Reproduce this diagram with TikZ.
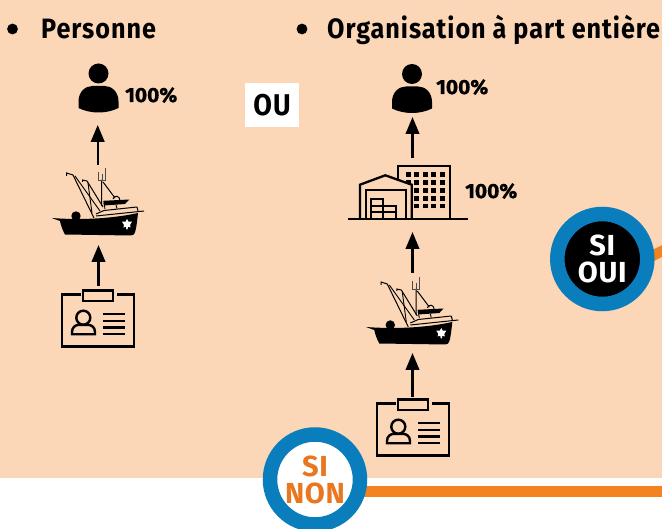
\documentclass[tikz,border=0pt]{standalone}
\usepackage{fontspec}
\usetikzlibrary{arrows.meta}
\newfontfamily\dinfont[FakeStretch=0.9,LetterSpace=3.5]{Fira Sans}
\newfontfamily\ringfont[FakeStretch=1.0,LetterSpace=2.5]{Fira Sans}
\newfontfamily\pctfont[FakeStretch=1.02,FakeBold=0.8]{Fira Sans}
\definecolor{peach}{HTML}{FBD6B7}
\definecolor{ringblue}{HTML}{0A7DBD}
\definecolor{barorange}{HTML}{F58220}
\definecolor{nonorange}{HTML}{E8771F}
\tikzset{
  x=1pt,y=-1pt,
  lbl/.style={inner sep=0,anchor=base west,font=\dinfont\bfseries\fontsize{28}{28}\selectfont},
  pct/.style={inner sep=0,anchor=base west,font=\pctfont\bfseries\fontsize{20.5}{20.5}\selectfont},
  flow/.style={line width=2.4pt,-{Triangle[length=17pt,width=13.5pt]}},
  ring/.style={circle,draw=ringblue,line width=14.5pt,minimum size=90pt,inner sep=0,align=center,
     font=\ringfont\bfseries\fontsize{29}{27}\selectfont},
  pics/personicon/.style={code={
    \fill (0,0) circle (10);
    \fill (-20,34.5) -- (-20,28) .. controls (-20,18) and (-13,12.5) .. (-6,12.5) -- (6,12.5)
       .. controls (13,12.5) and (20,18) .. (20,28) -- (20,34.5) .. controls (8,40.5) and (-8,40.5) .. (-20,34.5) -- cycle;
  }},
  pics/boaticon/.style={code={
    \fill (51.7,218) -- (60,221) .. controls (61,226) and (63,231) .. (65,234.5) -- (131,235.5)
       .. controls (135,235.5) and (136,232) .. (138,213) .. controls (115,218) and (85,220.5) .. (51.7,218) -- cycle;
    \fill (76,216) circle (4.7);
    \draw[line width=1pt] (144,211) -- (96,216);
    \draw[line width=1pt] (137,207) -- (138,211);
    \draw[line width=1pt] (137,207) -- (104,210.5) -- (96,214);
    \draw[line width=.9pt] (105,209) -- (104,203) (116,205) -- (117,208.5);
    \fill (103.3,200.8) -- (129.3,199.5) -- (125,204) -- (104,205.5) -- cycle;
    \draw[line width=1pt] (66.7,176) -- (66.7,173) -- (73,175) -- (94,218);
    \draw[line width=.9pt] (75,176) -- (100,211);
    \draw[line width=.9pt] (88,183) -- (92,213);
    \draw[line width=1pt] (82.5,182) -- (82.5,180) -- (87,181) -- (103,207);
    \draw[line width=1pt] (101.7,180) -- (101.7,206) (103,182) -- (115,198);
    \draw[line width=.8pt,black!70] (98.5,172) -- (98.5,180.5) -- (105.3,180.5) -- (105.3,168) (102,174) -- (102,180);
    \draw[line width=1pt] (113,199) .. controls (114,195) and (120,195) .. (120,201);
    \fill[white] (127,219) -- (128.4,221.6) -- (132,221.6) -- (130,225) -- (130.6,227.4) -- (128,226.8) -- (127.6,229.5)
       -- (126.4,229.5) -- (126,226.8) -- (123.4,227.4) -- (124,225) -- (122,221.6) -- (125.6,221.6) -- cycle;
  }},
  pics/badgeicon/.style={code={
    \draw[line width=2.4pt] (81,294.5) -- (62,294.5) -- (62,346.5) -- (134,346.5) -- (134,294.5) -- (117,294.5);
    \draw[line width=2.4pt] (83,290.5) rectangle (113,301);
    \draw[line width=2.4pt] (83.3,317.7) circle (7);
    \draw[line width=2.4pt] (72,334.3) -- (72,332) .. controls (72,327) and (76,325) .. (78,325) -- (89,325)
       .. controls (91,325) and (95,327) .. (95,332) -- (95,334.3) -- cycle;
    \draw[line width=2.4pt] (103,314) -- (125,314) (103,320.8) -- (125,320.8) (103,327.5) -- (125,327.5) (103,334) -- (125,334);
  }},
  pics/buildingicon/.style={code={
    \draw[line width=2.3pt] (398,219) -- (398,165.7) -- (450.3,165.7) -- (450.3,219);
    \foreach \wx in {408.3,416.3,425.3,433.3,442.3}
      \foreach \wy in {174.3,182.7,190.7,198.3,206}
        \fill (\wx-2.4,\wy-2.4) rectangle (\wx+2.4,\wy+2.4);
    \draw[line width=2.3pt,fill=peach] (360,219) -- (360,184.7) -- (385.3,175.3) -- (411.7,184.7) -- (411.7,219);
    \draw[line width=2.3pt] (366,219) -- (366,190) -- (405.7,190) -- (405.7,219);
    \draw[line width=2pt] (371,219) -- (371,198.7) -- (383.3,198.7) -- (383.3,219);
    \draw[line width=2pt] (371,205.7) -- (396,205.7) -- (396,219) (371,212.3) -- (396,212.3);
    \draw[line width=2.3pt] (348,219.3) -- (467.7,219.3);
  }}
}
\begin{document}
\begin{tikzpicture}
\useasboundingbox (0,0) rectangle (662,529);
\fill[peach] (0,0) rectangle (662,478);
\fill[white] (0,478) rectangle (662,529);

% headings
\fill (12.5,29) circle (5.4);
\fill (302,29) circle (5.4);
\node[lbl] (titleA) at (41,39) {Personne};
\node[lbl] (titleB) at (327,39) {Organisation à part entière};

% left chain
\pic at (98.5,73.5) {personicon};
\pic at (0,0) {boaticon};
\pic at (0,0) {badgeicon};
\node[pct] (pctA) at (125,102) {100\%};
\coordinate (boatAtop) at (97.7,165);
\coordinate (personA) at (97.7,125);
\coordinate (badgeAtop) at (98.5,286);
\coordinate (boatAbot) at (98.5,245);
\draw[flow] (boatAtop) -- (personA);
\draw[flow] (badgeAtop) -- (boatAbot);

% OU
\node[fill=white,minimum width=54pt,minimum height=44pt,inner sep=0,font=\dinfont\bfseries\fontsize{30}{30}\selectfont] (ou) at (272,105) {OU};

% right chain
\pic at (412,74) {personicon};
\pic at (0,0) {buildingicon};
\pic[shift={(314.3,109)}] at (0,0) {boaticon};
\pic[shift={(315,109)}] at (0,0) {badgeicon};
\node[pct] (pctB) at (436,94) {100\%};
\node[pct] (pctC) at (465,198) {100\%};
\coordinate (bldTop) at (412.5,158);
\coordinate (personB) at (412.5,117);
\coordinate (boatBtop) at (412.5,273);
\coordinate (bldBot) at (412.5,232);
\coordinate (badgeBtop) at (412.5,397);
\coordinate (boatBbot) at (412.5,353);
\draw[flow] (bldTop) -- (personB);
\draw[flow] (boatBtop) -- (bldBot);
\draw[flow] (badgeBtop) -- (boatBbot);

% connectors behind the rings
\coordinate (ouiC) at (602.3,259);
\coordinate (nonC) at (315,479.5);
\coordinate (ouiOut) at (680,242);
\coordinate (nonOut) at (662,491.5);
\draw[barorange,line width=10.5pt] (ouiC |- 0,281) -- (ouiOut);
\draw[barorange,line width=11pt] (nonC |- nonOut) -- (nonOut);
\node[ring,fill=black,text=white] (sioui) at (ouiC) {SI\\OUI};
\node[ring,fill=white,text=nonorange] (sinon) at (nonC) {SI\\NON};
\end{tikzpicture}
\end{document}
